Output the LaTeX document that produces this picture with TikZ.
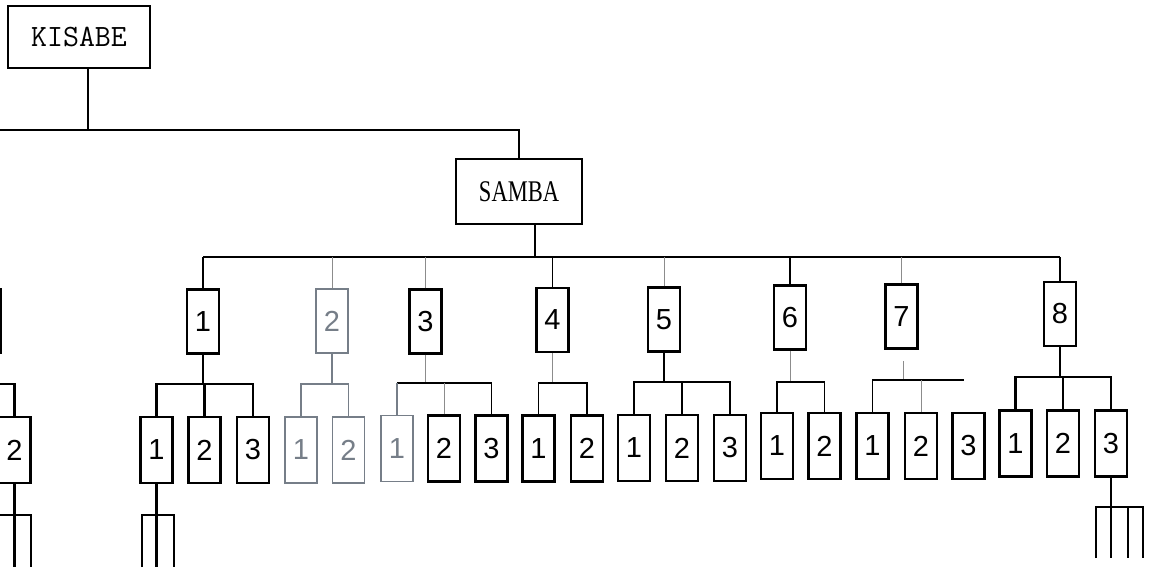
\documentclass[tikz,border=0pt]{standalone}
\usepackage{fontspec}
\setmainfont{Liberation Serif}
\newfontfamily\numfont{Liberation Sans}
\newfontfamily\sambafont[FakeStretch=0.75]{Liberation Serif}
\definecolor{gr}{RGB}{118,126,136}
\definecolor{faint}{RGB}{140,140,140}
\tikzset{
  nbox/.style={draw, line width=2.4pt, minimum width=32pt, minimum height=64pt, inner sep=0pt,
    font=\numfont\fontsize{29}{32}\selectfont},
  grbox/.style={nbox, draw=gr, text=gr, line width=1.7pt},
  bigbox/.style={draw, line width=1.8pt, inner sep=0pt},
  wire/.style={line width=2.2pt},
  thinw/.style={line width=1.4pt},
  fnt/.style={line width=0.8pt, draw=faint},
  grw/.style={line width=1.7pt, draw=gr}
}
\begin{document}
\begin{tikzpicture}[x=1pt,y=-1pt]
\useasboundingbox (0,0) rectangle (1155,569);
\clip (0,0) rectangle (1155,569);
% top level
\node[bigbox, minimum width=142pt, minimum height=62pt, font=\ttfamily\fontsize{31}{34}\selectfont] (kis) at (79,37) {KISABE};
\node[bigbox, minimum width=126pt, minimum height=65pt, font=\sambafont\fontsize{30}{34}\selectfont] (samba) at (519,191.5) {SAMBA};
\coordinate (k1) at (88,130);
\coordinate (k0) at (-5,130);
\coordinate (s1) at (535,257);
\draw[thinw] (kis.south -| k1) -- (k1);
\draw[thinw] (k0) -- (samba.north |- k1) -- (samba.north);
\draw[thinw] (samba.south -| s1) -- (s1);
% level 2
\node[nbox] (bL) at (-15,321) {};
\node[nbox] (b1) at (203,321.5) {1};
\node[grbox] (b2) at (332,321) {2};
\node[nbox] (b3) at (425.5,321.5) {3};
\node[nbox] (b4) at (552.5,320) {4};
\node[nbox] (b5) at (664,319.5) {5};
\node[nbox] (b6) at (790,317.5) {6};
\node[nbox] (b7) at (901.5,316.5) {7};
\node[nbox] (b8) at (1060,314) {8};
\coordinate (L2) at (0,257);
\draw[thinw] (b1.north |- L2) -- (b8.north |- L2);
\draw[wire] (b1.north) -- (b1.north |- L2);
\draw[fnt] (b2.north) -- (b2.north |- L2);
\draw[fnt] (b3.north) -- (b3.north |- L2);
\draw[thinw] (b4.north) -- (b4.north |- L2);
\draw[fnt] (b5.north) -- (b5.north |- L2);
\draw[thinw] (b6.north) -- (b6.north |- L2);
\draw[fnt] (b7.north) -- (b7.north |- L2);
\draw[wire] (b8.north) -- (b8.north |- L2);
% level 3
\node[nbox, minimum height=66pt] (cL) at (14.5,450) {2};
\node[nbox, minimum height=66pt] (c11) at (156.5,450) {1};
\node[nbox, minimum height=66pt] (c12) at (204.5,450) {2};
\node[nbox, minimum height=66pt] (c13) at (253,450) {3};
\node[grbox, minimum height=66pt] (c21) at (301,450) {1};
\node[grbox, minimum height=66pt] (c22) at (348.5,450) {2};
\node[grbox, minimum height=66pt] (c31) at (397,448.5) {1};
\node[nbox, minimum height=66pt] (c32) at (444,448.5) {2};
\node[nbox, minimum height=66pt] (c33) at (491.5,448.5) {3};
\node[nbox, minimum height=66pt] (c41) at (538.5,448.5) {1};
\node[nbox, minimum height=66pt] (c42) at (587,448.5) {2};
\node[nbox, minimum height=66pt] (c51) at (634,448) {1};
\node[nbox, minimum height=66pt] (c52) at (682,448) {2};
\node[nbox, minimum height=66pt] (c53) at (730,448) {3};
\node[nbox, minimum height=66pt] (c61) at (777,446) {1};
\node[nbox, minimum height=66pt] (c62) at (824.5,446) {2};
\node[nbox, minimum height=66pt] (c71) at (872.5,446) {1};
\node[nbox, minimum height=66pt] (c72) at (921,446) {2};
\node[nbox, minimum height=66pt] (c73) at (968.5,446) {3};
\node[nbox, minimum height=66pt] (c81) at (1015.5,443.5) {1};
\node[nbox, minimum height=66pt] (c82) at (1063,443.5) {2};
\node[nbox, minimum height=66pt] (c83) at (1111,443.5) {3};
% buses
\coordinate (uL) at (-5,384);
\draw[wire] (uL) -- (cL.north |- uL) -- (cL.north);
\coordinate (u1) at (0,384);
\draw[wire] (b1.south) -- (b1.south |- u1);
\draw[wire] (c11.north) -- (c11.north |- u1) -- (c13.north |- u1) -- (c13.north);
\draw[wire] (c12.north) -- (c12.north |- u1);
\coordinate (u2) at (0,384);
\draw[grw] (b2.south) -- (b2.south |- u2);
\draw[grw] (c21.north) -- (c21.north |- u2) -- (c22.north |- u2) -- (c22.north);
\coordinate (u3) at (0,383);
\draw[fnt] (b3.south) -- (b3.south |- u3);
\draw[thinw] (c31.north |- u3) -- (c33.north |- u3) -- (c33.north);
\draw[grw] (c31.north) -- (c31.north |- u3);
\draw[fnt] (c32.north) -- (c32.north |- u3);
\coordinate (u4) at (0,383);
\draw[fnt] (b4.south) -- (b4.south |- u4);
\draw[thinw] (c41.north) -- (c41.north |- u4) -- (c42.north |- u4) -- (c42.north);
\coordinate (u5) at (0,382);
\draw[thinw] (b5.south) -- (b5.south |- u5);
\draw[wire] (c51.north) -- (c51.north |- u5) -- (c53.north |- u5) -- (c53.north);
\draw[wire] (c52.north) -- (c52.north |- u5);
\coordinate (u6) at (0,382);
\draw[fnt] (b6.south) -- (b6.south |- u6);
\draw[thinw] (c61.north) -- (c61.north |- u6) -- (c62.north |- u6) -- (c62.north);
\coordinate (u7a) at (903,361);
\coordinate (u7b) at (903,380);
\coordinate (u7e) at (964,380);
\draw[fnt] (u7a) -- (u7b);
\draw[thinw] (c71.north) -- (c71.north |- u7b) -- (u7e);
\draw[fnt] (c72.north) -- (c72.north |- u7b);
\coordinate (u8) at (0,377);
\draw[wire] (b8.south) -- (b8.south |- u8);
\draw[wire] (c81.north) -- (c81.north |- u8) -- (c83.north |- u8) -- (c83.north);
\draw[wire] (c82.north) -- (c82.north |- u8);
% forks
\coordinate (fLa) at (-1,515); \coordinate (fLb) at (31,515);
\coordinate (fLa2) at (-1,567); \coordinate (fLb2) at (31,567);
\draw[wire] (cL.south) -- (cL.south |- fLa) coordinate (fLm);
\draw[wire] (fLa2) -- (fLa) -- (fLb) -- (fLb2);
\draw[wire] (fLm) -- (fLm |- fLa2);
\coordinate (f1a) at (142,515); \coordinate (f1b) at (174,515);
\coordinate (f1a2) at (142,567); \coordinate (f1b2) at (174,567);
\draw[wire] (c11.south) -- (c11.south |- f1a) coordinate (f1m);
\draw[wire] (f1a2) -- (f1a) -- (f1b) -- (f1b2);
\draw[wire] (f1m) -- (f1m |- f1a2);
\coordinate (f8a) at (1096,507); \coordinate (f8b) at (1143,507);
\coordinate (f8a2) at (1096,558); \coordinate (f8b2) at (1143,558);
\coordinate (f8c) at (1128,507);
\draw[wire] (c83.south) -- (c83.south |- f8a) coordinate (f8m);
\draw[wire] (f8a2) -- (f8a) -- (f8b) -- (f8b2);
\draw[wire] (f8m) -- (f8m |- f8a2);
\draw[wire] (f8c) -- (f8c |- f8a2);
\end{tikzpicture}
\end{document}
